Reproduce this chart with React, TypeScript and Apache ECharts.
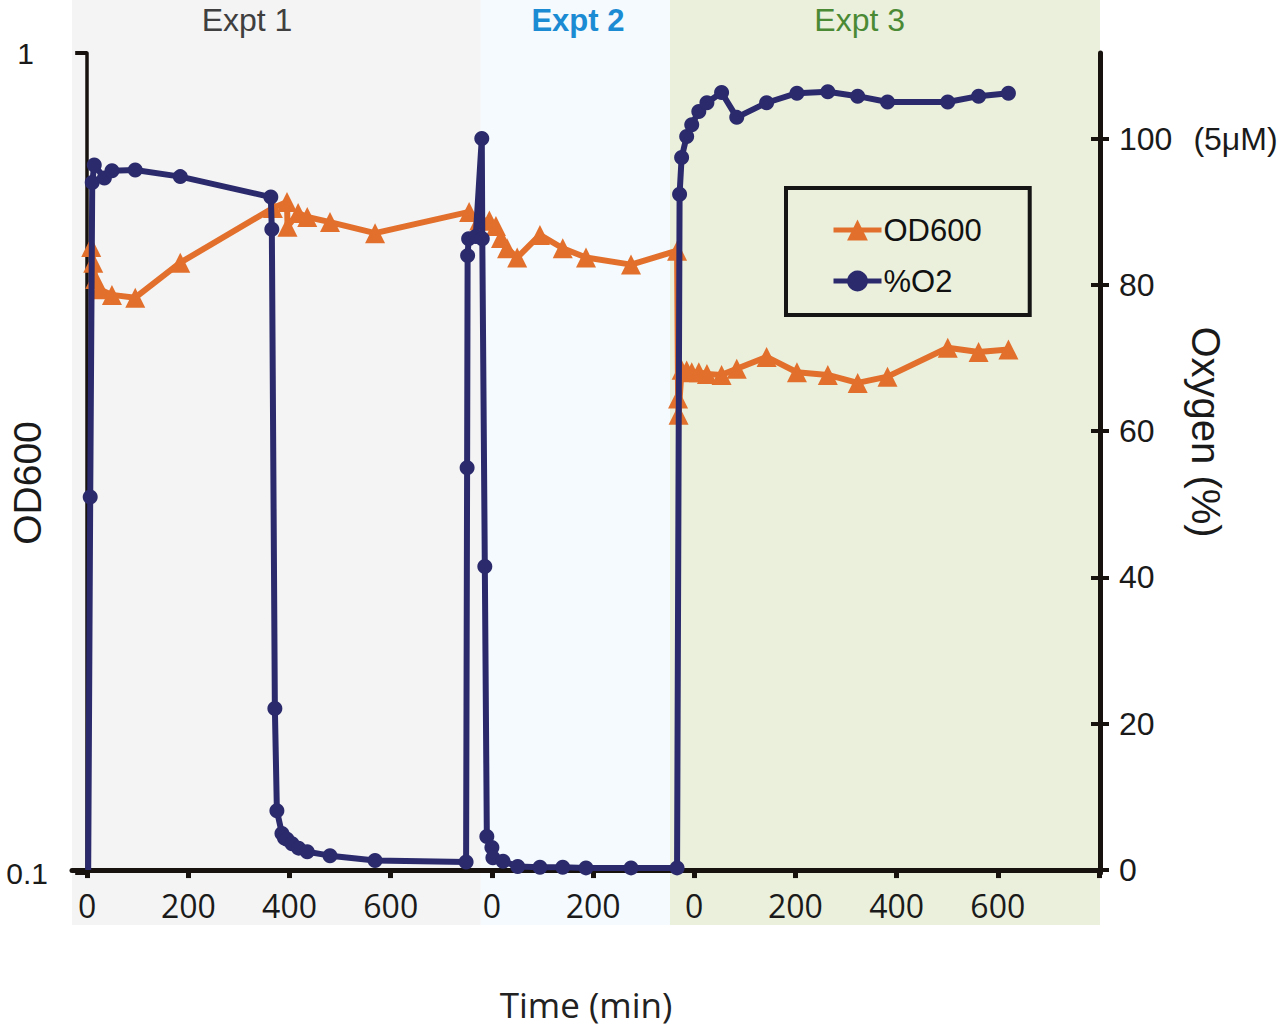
import { useEffect, useRef } from "react";
import * as echarts from "echarts";

// experiments are laid end to end on one time axis (axis minutes)
const exptNames = ["Expt 1", "Expt 2", "Expt 3"];
const exptColors = ["#3f3f3f", "#1b8bd3", "#4b8a35"];
const exptBg = ["#f4f4f4", "#f4fafd", "#ebf0dd"];
const exptStart = [0, 800, 1200];
const exptEdges = [-30, 778, 1152, 2002];
const exptLabelAt = [316, 970, 1527];

const xTicks = [0, 200, 400, 600, 800, 1000, 1200, 1400, 1600, 1800, 2000];
const xLabels = [0, 200, 400, 600, 800, 1000, 1200, 1400, 1600, 1800];
const o2Ticks = [0, 20, 40, 60, 80, 100];

const odTime = [
  8, 12, 16, 24, 49, 95, 184, 367, 395, 396, 417, 435, 480, 569,
  755, 775, 795, 808, 818, 830, 850, 895, 940, 986, 1075, 1166,
  1168, 1169, 1175, 1185, 1195, 1209, 1225, 1254, 1284, 1343, 1403, 1464, 1523, 1582, 1701, 1762, 1821,
];
const odValue = [
  0.58, 0.555, 0.53, 0.515, 0.507, 0.503, 0.555, 0.647, 0.658, 0.614, 0.638, 0.631, 0.622, 0.603,
  0.64, 0.625, 0.625, 0.615, 0.595, 0.578, 0.563, 0.6, 0.578, 0.563, 0.552, 0.574,
  0.379, 0.362, 0.411, 0.41, 0.408, 0.408, 0.406, 0.405, 0.412, 0.426, 0.408, 0.405, 0.396, 0.403, 0.437, 0.432, 0.435,
];

const o2Time = [
  2, 6, 10, 14, 34, 49, 95, 184, 363, 365, 371, 375, 385, 390, 395, 405, 418, 435, 480, 569, 749,
  751, 752, 754, 768, 780, 781, 786, 790, 800, 802, 822, 851, 895, 940, 986, 1075, 1166,
  1171, 1175, 1185, 1195, 1209, 1225, 1254, 1284, 1343, 1403, 1464, 1523, 1582, 1701, 1762, 1821,
];
const o2Value = [
  0, 51, 94, 96.4, 94.6, 95.6, 95.7, 94.8, 92, 87.6, 22.1, 8.1, 5.0, 4.4, 4.2, 3.6, 3.0, 2.5, 1.97, 1.3, 1.1,
  55, 84, 86.3, 86.6, 100, 86.3, 41.5, 4.6, 3.1, 1.7, 1.2, 0.5, 0.4, 0.4, 0.3, 0.3, 0.3,
  92.4, 97.4, 100.3, 101.9, 103.7, 104.9, 106.3, 102.9, 104.9, 106.2, 106.4, 105.8, 105.0, 105.0, 105.8, 106.2,
];

const ORANGE = "#e2702c";
const NAVY = "#2b2a6c";
const AXIS = "#17120e";
const SANS = "'Liberation Sans', Arial, sans-serif";

function localMinutes(v: number) {
  let s = 0;
  for (const st of exptStart) if (v >= st) s = st;
  return String(Math.round(v - s));
}

export default function App() {
  const ref = useRef<HTMLDivElement>(null);

  useEffect(() => {
    if (!ref.current) return;
    const chart = echarts.init(ref.current, undefined, { renderer: "svg" });

    const rightAxisBase = {
      type: "value" as const,
      position: "right" as const,
      min: -0.4,
      max: 111.7,
      splitLine: { show: false },
    };

    const option: echarts.EChartsOption = {
      animation: false,
      backgroundColor: "#ffffff",
      grid: { left: 72, right: 180, top: 53, bottom: 157, outerBoundsMode: "none" } as any,
      legend: {
        data: ["OD600", "%O2"],
        orient: "vertical",
        left: 786,
        top: 188,
        padding: [25, 48, 17, 45],
        itemGap: 17,
        itemWidth: 48,
        itemHeight: 26,
        borderColor: "#151515",
        borderWidth: 4,
        lineStyle: { width: 5 },
        textStyle: { fontSize: 31, lineHeight: 34, color: "#111", fontFamily: SANS, padding: [0, 0, 0, -3] },
      } as any,
      xAxis: {
        type: "value",
        min: -30,
        max: 2002,
        name: "Time (min)",
        nameLocation: "middle",
        nameGap: 113,
        nameMoveOverlap: false,
        nameTextStyle: { fontSize: 35, lineHeight: 36, color: "#222", fontFamily: "'Open Sans', sans-serif" },
        axisLine: { lineStyle: { color: AXIS, width: 5 } },
        axisTick: { customValues: xTicks, length: 8, lineStyle: { color: AXIS, width: 5 } },
        axisLabel: {
          customValues: xLabels,
          formatter: (v: number) => localMinutes(v),
          fontSize: 32,
          color: "#1a1a1a",
          margin: 16,
          fontFamily: "'Open Sans', sans-serif",
        },
        splitLine: { show: false },
      } as any,
      yAxis: [
        {
          type: "log",
          logBase: 10,
          min: 0.1,
          max: 1,
          position: "left",
          name: "OD600",
          nameLocation: "middle",
          nameGap: 25,
          nameRotate: 90,
          nameMoveOverlap: false,
          nameTextStyle: { fontSize: 39, color: "#1a1a1a", fontFamily: SANS, padding: [0, 40, 0, 0] },
          axisLine: { show: true, lineStyle: { color: AXIS, width: 3.5 } },
          axisTick: { show: true, length: 12, lineStyle: { color: AXIS, width: 4 } },
          axisLabel: {
            margin: 24,
            fontSize: 30,
            color: "#1a1a1a",
            fontFamily: SANS,
            formatter: (v: number) => (v > 0.5 ? "{one|1}" : "0.1"),
            rich: { one: { fontSize: 30, color: "#1a1a1a", fontFamily: SANS, padding: [0, 14, 0, 0] } },
          },
          splitLine: { show: false },
          minorTick: { show: false },
        },
        {
          ...rightAxisBase,
          name: "Oxygen (%)",
          nameLocation: "middle",
          nameGap: 86,
          nameRotate: -90,
          nameMoveOverlap: false,
          nameTextStyle: { fontSize: 40, color: "#1a1a1a", fontFamily: SANS, padding: [0, 62, 0, 0] },
          axisLine: { show: true, lineStyle: { color: AXIS, width: 5 } },
          axisTick: { show: true, customValues: o2Ticks, length: 9, lineStyle: { color: AXIS, width: 4 } },
          axisLabel: {
            customValues: o2Ticks,
            margin: 19,
            fontSize: 32,
            color: "#1a1a1a",
            fontFamily: SANS,
            formatter: (v: number) => (v === 100 ? "{n|100}{u|(5μM)}" : `{n|${v}}`),
            rich: {
              n: { fontSize: 32, color: "#1a1a1a", fontFamily: SANS },
              u: { fontSize: 32, color: "#1a1a1a", fontFamily: SANS, padding: [0, 0, 0, 21] },
            },
          },
        },
        {
          ...rightAxisBase,
          axisLine: { show: false },
          axisTick: { show: true, inside: true, customValues: o2Ticks, length: 9, lineStyle: { color: AXIS, width: 4 } },
          axisLabel: { show: false },
        },
      ] as any,
      series: [
        {
          name: "OD600",
          type: "line",
          yAxisIndex: 0,
          data: odTime.map((t, i) => [t, odValue[i]]),
          symbol: "triangle",
          symbolSize: 20,
          lineStyle: { color: ORANGE, width: 6 },
          itemStyle: { color: ORANGE },
          z: 2,
        },
        {
          name: "%O2",
          type: "line",
          yAxisIndex: 1,
          data: o2Time.map((t, i) =>
            i === 0 ? { value: [t, o2Value[i]], symbol: "none" } : [t, o2Value[i]]
          ),
          symbol: "circle",
          symbolSize: 15,
          lineStyle: { color: NAVY, width: 6 },
          itemStyle: { color: NAVY },
          z: 3,
        },
      ],
    };

    chart.setOption(option);

    const px = (g: number) => chart.convertToPixel({ xAxisIndex: 0 }, g) as number;
    const graphic: any[] = [];
    exptNames.forEach((name, i) => {
      const x0 = px(exptEdges[i]);
      const x1 = px(exptEdges[i + 1]);
      graphic.push({
        type: "rect",
        z: -10,
        silent: true,
        shape: { x: x0, y: 0, width: x1 - x0, height: 925 },
        style: { fill: exptBg[i] },
      });
      graphic.push({
        type: "text",
        z: -5,
        silent: true,
        x: px(exptLabelAt[i]),
        y: 20,
        style: {
          text: name,
          fill: exptColors[i],
          fontSize: i === 1 ? 31 : 32,
          fontWeight: i === 1 ? "bold" : "normal",
          fontFamily: SANS,
          align: "center",
          verticalAlign: "middle",
        },
      });
    });
    chart.setOption({ graphic });

    return () => chart.dispose();
  }, []);

  return (
    <div
      ref={ref}
      style={{ position: "absolute", left: 0, top: 0, width: 1280, height: 1030 }}
    />
  );
}
